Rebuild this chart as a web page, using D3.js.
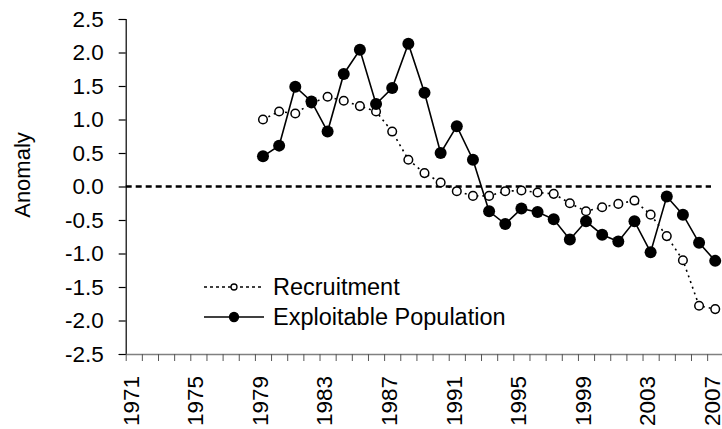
<!DOCTYPE html>
<html>
<head>
<meta charset="utf-8">
<script src="https://cdn.jsdelivr.net/npm/d3@7"></script>
<style>
  body { margin: 0; background: #fff; }
  text { font-family: "Liberation Sans", Arial, sans-serif; fill: #000; }
</style>
</head>
<body>
<svg id="chart" width="722" height="429"></svg>
<script>
// data
let years = d3.range(1979, 2008);
let recruitment = [1.00, 1.12, 1.09, 1.24, 1.34, 1.28, 1.20, 1.12, 0.82, 0.40,
                   0.20, 0.06, -0.07, -0.14, -0.14, -0.07, -0.06, -0.09, -0.11, -0.25,
                   -0.37, -0.31, -0.26, -0.21, -0.42, -0.74, -1.10, -1.78, -1.83];
let exploitable = [0.45, 0.61, 1.49, 1.27, 0.82, 1.68, 2.04, 1.23, 1.47, 2.13,
                   1.40, 0.50, 0.90, 0.40, -0.37, -0.56, -0.33, -0.38, -0.49, -0.79,
                   -0.52, -0.72, -0.82, -0.52, -0.98, -0.15, -0.42, -0.84, -1.11];
let yTicks = d3.range(-2.5, 2.51, 0.5);
let yearLabels = d3.range(1971, 2008, 4);

let svg = d3.select('#chart');
let plotLeft = 125.7, plotRight = 723.3, plotTop = 19, plotBottom = 354;

// category axis: one slot per year, ticks on slot edges
let x = d3.scaleLinear().domain([1971, 2008]).range([plotLeft, plotRight]);
let cx = yr => x(yr + 0.5);
let y = d3.scaleLinear().domain([-2.5, 2.5]).range([plotBottom, plotTop]);

// y axis
let yAxis = svg.append("g")
               .attr("transform", "translate(" + plotLeft + ",0)")
               .call(d3.axisLeft(y).tickValues(yTicks)
                       .tickFormat(d => (Math.abs(d) < 1e-9 ? 0 : d).toFixed(1))
                       .tickSize(7).tickPadding(15));
yAxis.select(".domain").attr("stroke", "#000").attr("stroke-width", 1.2);
yAxis.selectAll(".tick line").attr("stroke", "#000").attr("stroke-width", 1.2);
yAxis.selectAll("text").attr("font-size", 22.5).attr("font-family", "Liberation Sans, Arial, sans-serif");

// x axis
let xAxis = svg.append("g")
               .attr("transform", "translate(0," + plotBottom + ")")
               .call(d3.axisBottom(x).tickValues(d3.range(1971, 2008)).tickFormat("").tickSize(7).tickSizeOuter(0));
xAxis.select(".domain").attr("stroke", "#808080").attr("stroke-width", 1.5);
xAxis.selectAll(".tick line").attr("stroke", "#555").attr("stroke-width", 1);

svg.append("g").selectAll("text")
   .data(yearLabels)
   .enter()
   .append("text")
   .attr("transform", d => "translate(" + (cx(d) - 3) + ",376) rotate(-90)")
   .attr("text-anchor", "end")
   .attr("dy", "0.35em")
   .attr("font-size", 22.5)
   .text(d => d);

// y title
svg.append("text")
   .attr("transform", "translate(30,175) rotate(-90)")
   .attr("text-anchor", "middle")
   .attr("font-size", 22)
   .text("Anomaly");

// zero line
svg.append("line")
   .attr("x1", plotLeft).attr("x2", 711)
   .attr("y1", y(0)).attr("y2", y(0))
   .attr("stroke", "#000")
   .attr("stroke-width", 2.5)
   .attr("stroke-dasharray", "6,4");

let recData = years.map((yr, i) => ({yr: yr, v: recruitment[i]}));
let expData = years.map((yr, i) => ({yr: yr, v: exploitable[i]}));
let line = d3.line().x(d => cx(d.yr)).y(d => y(d.v));

// recruitment series
svg.append("path")
   .datum(recData)
   .attr("d", line)
   .attr("fill", "none")
   .attr("stroke", "#000")
   .attr("stroke-width", 1.6)
   .attr("stroke-dasharray", "2,4");

svg.selectAll(".rec")
   .data(recData)
   .enter()
   .append("circle")
   .attr("class", "rec")
   .attr("cx", d => cx(d.yr))
   .attr("cy", d => y(d.v))
   .attr("r", 4.3)
   .attr("fill", "#fff")
   .attr("stroke", "#000")
   .attr("stroke-width", 1.5);

// exploitable population series
svg.append("path")
   .datum(expData)
   .attr("d", line)
   .attr("fill", "none")
   .attr("stroke", "#000")
   .attr("stroke-width", 1.6);

svg.selectAll(".exp")
   .data(expData)
   .enter()
   .append("circle")
   .attr("class", "exp")
   .attr("cx", d => cx(d.yr))
   .attr("cy", d => y(d.v))
   .attr("r", 6)
   .attr("fill", "#000");

// legend
let legend = svg.append("g");
let legendItems = [
  {name: "Recruitment", dash: "3,3", filled: false, r: 3, ly: 287},
  {name: "Exploitable Population", dash: null, filled: true, r: 4.5, ly: 317}
];
legendItems.forEach(d => {
  legend.append("line")
        .attr("x1", 204).attr("x2", 264)
        .attr("y1", d.ly).attr("y2", d.ly)
        .attr("stroke", "#000")
        .attr("stroke-width", 1.6)
        .attr("stroke-dasharray", d.dash);
  legend.append("circle")
        .attr("cx", 234).attr("cy", d.ly)
        .attr("r", d.r)
        .attr("fill", d.filled ? "#000" : "#fff")
        .attr("stroke", "#000")
        .attr("stroke-width", 1.3);
  legend.append("text")
        .attr("x", 273).attr("y", d.ly)
        .attr("dy", "0.35em")
        .attr("font-size", 23.5)
        .text(d.name);
});
</script>
</body>
</html>
